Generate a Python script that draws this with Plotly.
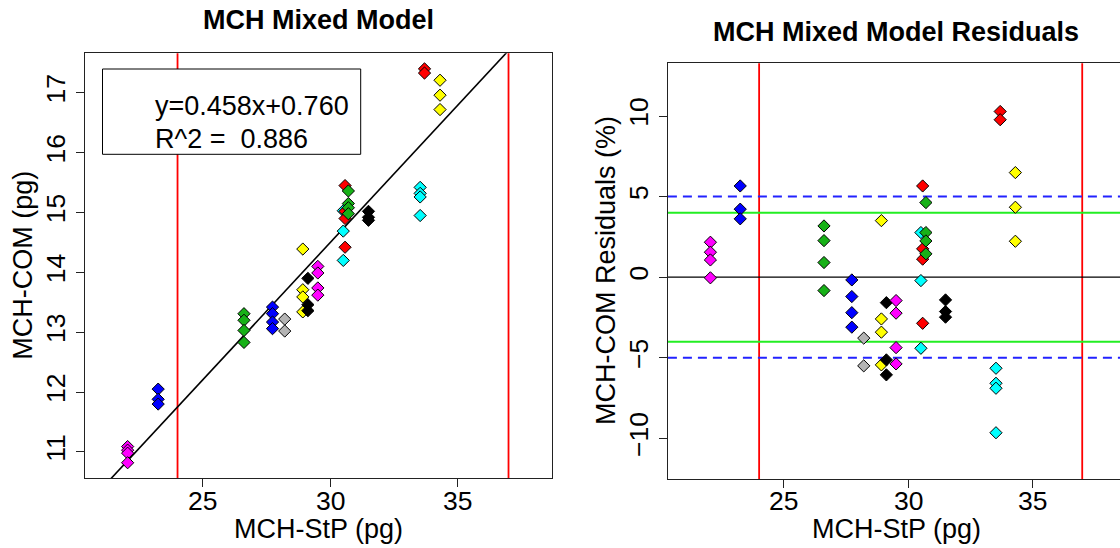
import plotly.graph_objects as go

# ---------------- data ----------------
group_color = ["#FF00FF", "#0000FF", "#17B117", "#0000FF", "#B4B4B4", "#FFFF00", "#000000",
               "#FF00FF", "#00FFFF", "#FF0000", "#17B117", "#000000", "#00FFFF", "#FF0000", "#FFFF00"]
group_stp = [22.04, 23.24, 26.61, 27.73, 28.21, 28.92, 29.12,
             29.51, 30.51, 30.58, 30.71, 31.50, 33.53, 33.70, 34.31]
group_com = [
    [11.09, 11.03, 10.98, 10.82],
    [12.05, 11.88, 11.80],
    [13.31, 13.20, 13.03, 12.83],
    [13.42, 13.31, 13.17, 13.06],
    [13.22, 13.02],
    [14.39, 13.71, 13.59, 13.34],
    [13.90, 13.46, 13.36],
    [14.10, 13.99, 13.74, 13.62],
    [15.03, 14.69, 14.20],
    [15.45, 15.02, 14.90, 14.42],
    [15.36, 15.15, 15.08, 14.98],
    [15.02, 14.92, 14.87],
    [15.42, 15.32, 15.26, 14.95],
    [17.40, 17.33],
    [17.21, 16.96, 16.72],
]
group_resid = [
    [2.17, 1.55, 1.07, -0.04],
    [5.66, 4.22, 3.62],
    [3.18, 2.27, 0.91, -0.83],
    [-0.17, -1.20, -2.20, -3.10],
    [-3.78, -5.50],
    [3.51, -2.59, -3.41, -5.44],
    [-1.58, -5.13, -6.06],
    [-1.45, -2.23, -4.37, -5.38],
    [2.77, -0.21, -4.41],
    [5.66, 1.76, 1.12, -2.86],
    [4.63, 2.77, 2.25, 1.45],
    [-1.41, -2.13, -2.48],
    [-5.65, -6.58, -6.89, -9.65],
    [10.28, 9.77],
    [6.49, 4.34, 2.23],
]
fit_slope = 0.458
fit_intercept = 0.760
fit_r2 = 0.886
limit_lines = [24, 37]          # red vertical lines
green_limits = [-4, 4]
blue_limits = [-5, 5]
x_ticks = [25, 30, 35]
y_ticks_left = [11, 12, 13, 14, 15, 16, 17]
y_ticks_right = [-10, -5, 0, 5, 10]

# ---------------- layout geometry ----------------
W, H = 1120, 548
FONT = "Liberation Sans, Arial, Helvetica, sans-serif"
FS = 27       # titles / labels
FST = 26.5    # tick labels

def px_x(p):
    return p / W

def px_y(p):
    return 1 - p / H

x_range_left = [20.35, 38.70]
y_range_left = [10.56, 17.66]
x_range_right = [20.33, 38.52]
y_range_right = [-12.52, 13.27]

fig = go.Figure()

# regression line (abline)
line_x = [x_range_left[0] - 1, x_range_left[1] + 1]
line_y = [fit_slope * v + fit_intercept for v in line_x]
fig.add_trace(go.Scatter(x=line_x, y=line_y, mode="lines",
                         line=dict(color="black", width=1.6),
                         xaxis="x", yaxis="y", showlegend=False, hoverinfo="skip"))

for col, xs, coms, res in zip(group_color, group_stp, group_com, group_resid):
    marker = dict(symbol="diamond", size=9.4, color=col,
                  line=dict(color="black", width=1))
    fig.add_trace(go.Scatter(x=[xs] * len(coms), y=coms, mode="markers",
                             marker=marker, xaxis="x", yaxis="y", showlegend=False))
    fig.add_trace(go.Scatter(x=[xs] * len(res), y=res, mode="markers",
                             marker=marker, xaxis="x2", yaxis="y2", showlegend=False))

shapes = []
for xv in limit_lines:
    for xr, yr in (("x", "y domain"), ("x2", "y2 domain")):
        shapes.append(dict(type="line", xref=xr, yref=yr, x0=xv, x1=xv, y0=0, y1=1,
                           line=dict(color="#FF0000", width=1.8), layer="below"))
shapes.append(dict(type="line", xref="x2 domain", yref="y2", x0=0, x1=1, y0=0, y1=0,
                   line=dict(color="black", width=1.2), layer="below"))
for yv in green_limits:
    shapes.append(dict(type="line", xref="x2 domain", yref="y2", x0=0, x1=1, y0=yv, y1=yv,
                       line=dict(color="#22EE22", width=2), layer="below"))
for yv in blue_limits:
    shapes.append(dict(type="line", xref="x2 domain", yref="y2", x0=0, x1=1, y0=yv, y1=yv,
                       line=dict(color="#2222FF", width=2, dash="9px,6px"), layer="below"))

# text box on the left panel
shapes.append(dict(type="rect", xref="paper", yref="paper",
                   x0=px_x(102.5), x1=px_x(360.7), y0=px_y(154.3), y1=px_y(69),
                   line=dict(color="black", width=1), fillcolor="white", layer="above"))

def txt(text, x, y, size=FS, **kw):
    d = dict(text=text, x=x, y=y, xref="paper", yref="paper", showarrow=False,
             font=dict(size=size, family=FONT, color="black"),
             xanchor="center", yanchor="middle")
    d.update(kw)
    return d

annotations = [
    txt("<b>MCH Mixed Model</b>", px_x(318.2), px_y(20)),
    txt("<b>MCH Mixed Model Residuals</b>", px_x(896.2), px_y(32)),
    txt("MCH-StP (pg)", px_x(318.2), px_y(529)),
    txt("MCH-StP (pg)", px_x(896.2), px_y(529)),
    txt("MCH-COM (pg)", px_x(23), px_y(265.8), textangle=-90),
    txt("MCH-COM Residuals (%)", px_x(606), px_y(271), textangle=-90),
    txt("y=%.3fx+%.3f" % (fit_slope, fit_intercept), px_x(152.9), px_y(106), xanchor="left"),
    txt("R^2 =\u00a0\u00a0%.3f" % fit_r2, px_x(152.9), px_y(139.3), xanchor="left"),
]
# x tick labels (placed by data value on each x axis)
for xr in ("x", "x2"):
    for t in x_ticks:
        annotations.append(dict(text=str(t), x=t, y=px_y(500.5), xref=xr, yref="paper",
                                showarrow=False, font=dict(size=FST, family=FONT, color="black"),
                                xanchor="center", yanchor="middle"))

axis_common = dict(showgrid=False, zeroline=False, showline=True, linecolor="#222222",
                   linewidth=1, ticks="outside", ticklen=8, tickcolor="#222222",
                   tickfont=dict(size=FST, family=FONT, color="black"))

fig.update_layout(
    width=W, height=H, margin=dict(l=0, r=0, t=0, b=0),
    paper_bgcolor="white", plot_bgcolor="white", showlegend=False,
    shapes=shapes, annotations=annotations,
    xaxis=dict(domain=[px_x(84.6), px_x(551.8)], range=x_range_left, tickvals=x_ticks,
               showticklabels=False, mirror=True, anchor="y", **axis_common),
    yaxis=dict(domain=[px_y(478.3), px_y(53.3)], range=y_range_left, tickvals=y_ticks_left,
               mirror=True, tickangle=-90, anchor="x", **axis_common),
    xaxis2=dict(domain=[px_x(667.9), 1.0], range=x_range_right, tickvals=x_ticks,
                showticklabels=False, mirror=True, anchor="y2", **axis_common),
    yaxis2=dict(domain=[px_y(479), px_y(63.3)], range=y_range_right, tickvals=y_ticks_right,
                mirror=False, tickangle=-90, anchor="x2", **axis_common),
)

fig.write_html("out.html", config={"displayModeBar": False},
               post_script="document.body.style.margin='0px';document.body.style.overflow='hidden';")
